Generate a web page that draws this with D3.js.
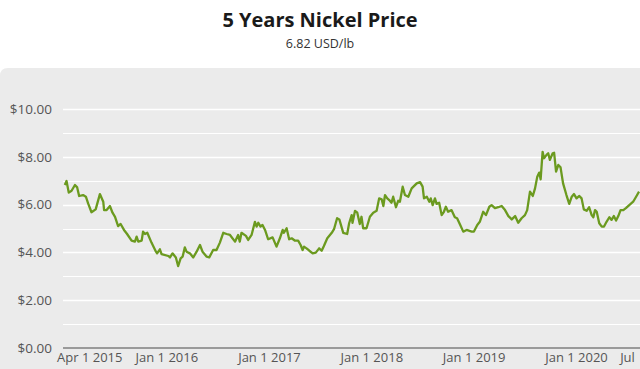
<!DOCTYPE html>
<html>
<head>
<meta charset="utf-8">
<script src="https://cdn.jsdelivr.net/npm/d3@7"></script>
<style>
  body { margin: 0; background: #fff; }
  svg { display: block; font-family: "Open Sans", sans-serif; }
</style>
</head>
<body>
<svg width="640" height="369"></svg>
<script>
// nickel price, USD per lb
var dates = [
  "2015-01-04","2015-01-10","2015-01-18","2015-01-28","2015-02-09","2015-02-17","2015-02-24","2015-03-10",
  "2015-03-20","2015-03-28","2015-04-09","2015-04-24","2015-05-09","2015-05-21","2015-05-24","2015-06-02",
  "2015-06-14","2015-06-23","2015-07-02","2015-07-13","2015-07-22","2015-08-03","2015-08-14","2015-08-30",
  "2015-09-11","2015-09-17","2015-09-23","2015-10-05","2015-10-10","2015-10-17","2015-10-25","2015-11-09",
  "2015-11-25","2015-11-29","2015-12-09","2015-12-15","2016-01-08","2016-01-14","2016-01-23","2016-02-04",
  "2016-02-12","2016-02-21","2016-02-28","2016-03-07","2016-03-13","2016-03-25","2016-04-06","2016-04-18",
  "2016-04-30","2016-05-09","2016-05-24","2016-06-02","2016-06-16","2016-06-28","2016-07-10","2016-07-22",
  "2016-08-03","2016-08-15","2016-09-02","2016-09-13","2016-09-19","2016-09-25","2016-10-11","2016-10-19",
  "2016-10-31","2016-11-12","2016-11-18","2016-11-24","2016-12-02","2016-12-09","2016-12-18","2016-12-29",
  "2017-01-14","2017-01-28","2017-02-09","2017-02-19","2017-02-23","2017-03-05","2017-03-14","2017-03-23",
  "2017-04-04","2017-04-15","2017-04-24","2017-05-01","2017-05-06","2017-05-15","2017-05-25","2017-06-06",
  "2017-06-17","2017-06-29","2017-07-08","2017-07-16","2017-07-28","2017-08-13","2017-08-21","2017-09-01",
  "2017-09-09","2017-09-23","2017-10-07","2017-10-14","2017-10-23","2017-10-26","2017-11-04","2017-11-12",
  "2017-11-21","2017-11-27","2017-12-03","2017-12-15","2017-12-27","2018-01-08","2018-01-20","2018-01-29",
  "2018-02-07","2018-02-13","2018-02-19","2018-02-27","2018-03-06","2018-03-14","2018-03-20","2018-03-30",
  "2018-04-07","2018-04-13","2018-04-23","2018-05-01","2018-05-13","2018-05-25","2018-06-12","2018-06-24",
  "2018-07-03","2018-07-08","2018-07-18","2018-07-27","2018-08-01","2018-08-08","2018-08-16","2018-08-22",
  "2018-08-31","2018-09-09","2018-09-17","2018-09-24","2018-10-02","2018-10-14","2018-10-26","2018-11-03",
  "2018-11-13","2018-11-25","2018-12-07","2018-12-25","2019-01-02","2019-01-14","2019-01-23","2019-02-04",
  "2019-02-14","2019-02-26","2019-03-06","2019-03-18","2019-03-30","2019-04-11","2019-04-23","2019-05-05",
  "2019-05-17","2019-05-29","2019-06-09","2019-06-21","2019-07-03","2019-07-11","2019-07-21","2019-07-31",
  "2019-08-08","2019-08-16","2019-08-23","2019-08-28","2019-09-04","2019-09-09","2019-09-18","2019-09-24",
  "2019-09-30","2019-10-10","2019-10-15","2019-10-22","2019-10-30","2019-11-07","2019-11-16","2019-11-28",
  "2019-12-08","2019-12-17","2019-12-25","2020-01-03","2020-01-13","2020-01-21","2020-01-29","2020-02-08",
  "2020-02-17","2020-02-26","2020-03-03","2020-03-09","2020-03-15","2020-03-24","2020-04-02","2020-04-10",
  "2020-04-19","2020-04-29","2020-05-07","2020-05-15","2020-05-23","2020-05-31","2020-06-08","2020-06-18",
  "2020-06-27","2020-07-09","2020-07-23","2020-08-04","2020-08-13"
];
var prices = [
  6.82,6.99,6.50,6.58,6.82,6.72,6.36,6.40,
  6.33,6.05,5.68,5.80,6.44,6.12,5.77,5.77,
  5.94,5.66,5.49,5.10,5.19,4.94,4.77,4.49,
  4.45,4.66,4.45,4.49,4.87,4.77,4.82,4.41,
  4.03,3.96,4.13,3.93,3.85,3.79,3.96,3.79,
  3.43,3.75,3.82,4.21,4.03,3.96,3.79,4.03,
  4.31,4.03,3.82,3.79,4.10,4.10,4.41,4.82,
  4.77,4.73,4.45,4.73,4.45,4.82,4.69,4.52,
  4.73,5.28,5.08,5.24,5.08,5.15,4.94,4.55,
  4.63,4.24,4.59,4.94,4.82,5.01,4.55,4.59,
  4.49,4.49,4.31,4.10,4.24,4.17,4.07,3.96,
  3.99,4.17,4.07,4.27,4.59,4.82,4.97,5.43,
  5.38,4.82,4.77,5.22,5.56,5.24,5.74,5.66,
  5.19,5.49,5.01,5.01,5.49,5.66,5.74,6.26,
  6.22,5.94,6.40,6.26,6.19,6.08,6.33,5.89,
  6.16,6.12,6.75,6.40,6.33,6.68,6.89,6.94,
  6.75,6.26,6.33,6.12,6.26,5.98,6.26,6.03,
  6.08,5.56,5.70,5.91,5.70,5.77,5.47,5.43,
  5.18,4.87,4.94,4.87,4.87,5.15,5.28,5.70,
  5.56,5.91,5.98,5.85,5.89,5.94,5.77,5.52,
  5.38,5.52,5.24,5.43,5.56,5.77,6.54,6.36,
  6.68,7.17,7.34,7.06,8.21,7.94,8.08,8.15,
  7.87,8.15,8.17,7.38,7.66,7.56,6.89,6.40,
  6.03,6.33,6.44,6.26,6.36,6.26,5.80,5.74,
  5.89,5.56,5.47,5.77,5.70,5.22,5.08,5.08,
  5.28,5.47,5.36,5.52,5.33,5.52,5.77,5.77,
  5.85,5.98,6.12,6.36,6.54
];
var tickDates = ["2015-04-01","2016-01-01","2017-01-01","2018-01-01","2019-01-01","2020-01-01","2020-07-01"];
var tickLabels = ["Apr 1 2015","Jan 1 2016","Jan 1 2017","Jan 1 2018","Jan 1 2019","Jan 1 2020","Jul"];
var yTicks = [0, 2, 4, 6, 8, 10];
var yGrid = [1, 2, 3, 4, 5, 6, 7, 8, 9, 10];

var width = 640, height = 369;
var svg = d3.select('svg');
var parse = d3.utcParse('%Y-%m-%d');

var x = d3.scaleUtc()
    .domain([parse("2015-01-01"), parse("2020-07-01")])
    .range([64, 627]);
var y = d3.scaleLinear()
    .domain([0, 10])
    .range([348, 109]);

var data = dates.map(function(d, i) {
    return {date: parse(d), value: prices[i]};
});

// titles
svg.append('text')
    .attr('x', width / 2).attr('y', 27)
    .attr('text-anchor', 'middle')
    .style('font-size', '20px').style('font-weight', 700).style('fill', '#1a1a1a')
    .text('5 Years Nickel Price');
svg.append('text')
    .attr('x', width / 2).attr('y', 48)
    .attr('text-anchor', 'middle')
    .style('font-size', '12.5px').style('fill', '#333')
    .text('6.82 USD/lb');

// grey panel, rounded top left corner
svg.append('path')
    .attr('d', 'M0,76 Q0,68 8,68 L640,68 L640,369 L0,369 Z')
    .style('fill', '#ebebeb');

// grid
svg.append('g')
    .selectAll('line')
    .data(yGrid)
    .join('line')
    .attr('x1', 63).attr('x2', width)
    .attr('y1', function(d) { return Math.round(y(d)) + 0.5; })
    .attr('y2', function(d) { return Math.round(y(d)) + 0.5; })
    .style('stroke', '#fff')
    .style('stroke-width', function(d) { return d % 2 == 0 ? 1.3 : 1; });

svg.append('line')
    .attr('x1', 63).attr('x2', width)
    .attr('y1', y(0)).attr('y2', y(0))
    .style('stroke', '#9a9a9a').style('stroke-width', 2);

// axes
var yAxis = svg.append('g')
    .attr('transform', 'translate(63,0)')
    .call(d3.axisLeft(y).tickValues(yTicks).tickSize(0).tickPadding(11).tickFormat(d3.format('$.2f')));
yAxis.select('.domain').remove();
yAxis.selectAll('text').style('font-size', '13.5px').style('fill', '#555').style('font-family', '"Open Sans", sans-serif');

var xAxis = svg.append('g')
    .attr('transform', 'translate(0,' + y(0) + ')')
    .call(d3.axisBottom(x).tickValues(tickDates.map(parse)).tickSize(0).tickPadding(5)
        .tickFormat(function(d, i) { return tickLabels[i]; }));
xAxis.select('.domain').remove();
xAxis.selectAll('text').style('font-size', '13px').style('fill', '#555').style('font-family', '"Open Sans", sans-serif');

// line
svg.append('clipPath').attr('id', 'clip')
    .append('rect').attr('x', 63).attr('y', 68).attr('width', width - 63).attr('height', 290);

svg.append('path')
    .datum(data)
    .attr('clip-path', 'url(#clip)')
    .attr('d', d3.line()
        .x(function(d) { return x(d.date); })
        .y(function(d) { return y(d.value); }))
    .style('fill', 'none')
    .style('stroke', '#6b9a1f')
    .style('stroke-width', 2.3)
    .style('stroke-linejoin', 'round');
</script>
</body>
</html>
